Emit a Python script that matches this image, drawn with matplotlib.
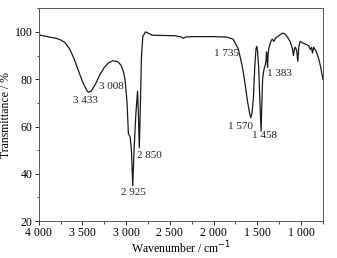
import matplotlib
matplotlib.use('Agg')
import matplotlib.pyplot as plt
from matplotlib.ticker import MultipleLocator, FuncFormatter

plt.rcParams['font.family'] = ['Liberation Serif', 'DejaVu Serif']

# Espectro IR
wavenumber = [4000, 3950, 3900, 3850, 3800, 3750, 3700, 3650, 3600, 3550, 3500,
              3450, 3433, 3400, 3350, 3300, 3250, 3200, 3150, 3100, 3060, 3030,
              3012, 2990, 2975, 2955, 2940, 2925, 2910, 2890, 2870, 2860, 2850,
              2840, 2825, 2810, 2780, 2750, 2700, 2600, 2450, 2380, 2350, 2320,
              2250, 2000, 1850, 1780, 1750, 1735, 1720, 1700, 1670, 1640, 1610,
              1585, 1574, 1560, 1545, 1530, 1515, 1506, 1498, 1485, 1470, 1457,
              1448, 1440, 1425, 1410, 1400, 1395, 1388, 1383, 1378, 1370, 1350,
              1330, 1310, 1290, 1250, 1210, 1180, 1150, 1120, 1100, 1087, 1075,
              1065, 1050, 1037, 1025, 1010, 990, 960, 930, 910, 895, 880, 870,
              855, 830, 800, 775, 750]
transmittance = [98.8, 98.4, 98.0, 97.6, 97.3, 96.6, 95.5, 93.0, 89.0, 84.0, 79.0,
                 75.2, 74.5, 75.0, 78.0, 82.0, 85.0, 87.0, 87.8, 87.5, 86.0, 83.0,
                 79.5, 70.0, 57.0, 55.5, 50.0, 35.0, 50.0, 65.0, 75.0, 65.0, 51.0,
                 65.0, 90.0, 98.0, 100.0, 99.5, 98.6, 98.5, 98.4, 98.0, 97.3, 97.8,
                 98.0, 98.0, 97.8, 97.0, 95.0, 94.0, 93.0, 90.0, 85.0, 78.0, 70.0,
                 65.0, 63.7, 66.0, 72.0, 85.0, 93.0, 93.8, 92.0, 85.0, 70.0, 58.0,
                 70.0, 80.0, 84.0, 86.0, 88.0, 91.5, 88.0, 85.0, 90.0, 93.0, 95.5,
                 97.0, 96.0, 97.5, 98.5, 99.5, 99.0, 97.5, 95.5, 93.0, 90.0, 93.0,
                 93.5, 92.0, 87.5, 94.0, 96.0, 95.5, 95.0, 94.5, 94.0, 92.5, 93.5,
                 91.0, 93.5, 92.0, 89.0, 85.0, 80.0]

# Rótulos dos picos
peak_labels = ['3 433', '3 008', '2 925', '2 850', '1 735', '1 570', '1 458', '1 383']
peak_x = [3470, 3165, 2920, 2738, 1857, 1690, 1422, 1250]
peak_y = [71, 77, 32, 47.8, 91, 60, 56, 82.6]

fig = plt.figure(figsize=(3.37, 2.58), dpi=100)
ax = fig.add_axes([0.115, 0.143, 0.844, 0.825])

ax.plot(wavenumber, transmittance, color='#1a1a1a', linewidth=0.9)

for lab, x, y in zip(peak_labels, peak_x, peak_y):
    ax.text(x, y, lab, fontsize=8, ha='center', va='center', color='#222222')

ax.set_xlim(4000, 747)
ax.set_ylim(20, 110)
ax.xaxis.set_major_locator(MultipleLocator(500))
ax.xaxis.set_minor_locator(MultipleLocator(250))
ax.yaxis.set_minor_locator(MultipleLocator(10))
ax.set_yticks([20, 40, 60, 80, 100])

def fmt_thousands(v, pos):
    v = int(round(v))
    if v >= 1000:
        return f"{v // 1000} {v % 1000:03d}"
    return str(v)

ax.xaxis.set_major_formatter(FuncFormatter(fmt_thousands))
ax.tick_params(axis='both', which='major', labelsize=8.5, length=3, width=0.6, pad=1.5, direction='out')
ax.tick_params(axis='both', which='minor', length=1.8, width=0.5, direction='out')

for s in ax.spines.values():
    s.set_color('#555555')
    s.set_linewidth(0.7)

ax.set_xlabel('Wavenumber / cm$^{-1}$', fontsize=8.5, labelpad=0)
ax.set_ylabel('Transmittance / %', fontsize=8.5, labelpad=2)

fig.savefig('out.png', dpi=100)
